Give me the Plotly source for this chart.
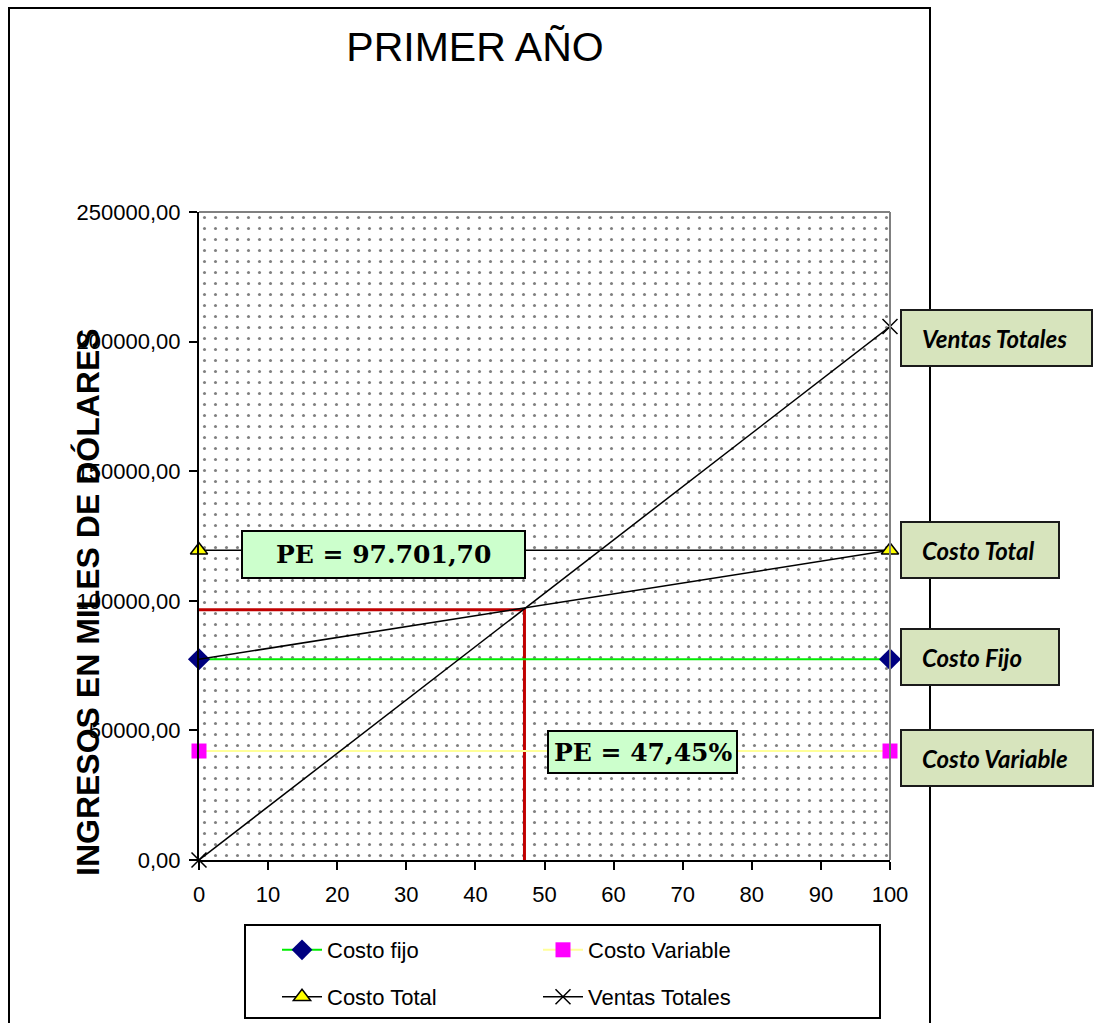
import plotly.graph_objects as go

# ---------------- data ----------------
x_pct = [0, 100]
costo_fijo = [77430, 77430]
costo_variable = [42050, 42050]
costo_total = [119480, 119480]
costo_total_recta = [77430, 119480]
ventas_totales = [0, 205800]
pe_pct = 47.1
pe_valor = 96500
pe_label_valor = "PE = 97.701,70"
pe_label_pct = "PE = 47,45%"
y_tickvals = [0, 50000, 100000, 150000, 200000, 250000]
y_ticktext = ["0,00", "50000,00", "100000,00", "150000,00", "200000,00", "250000,00"]
x_tickvals = [0, 10, 20, 30, 40, 50, 60, 70, 80, 90, 100]
x_range = [0, 100]
y_range = [0, 250000]

W, H = 1099, 1023
L, R, T, B = 199, 890, 212, 860  # plot area in px


def px(xp):
    return (xp - L) / (R - L)


def py(yp):
    return (B - yp) / (B - T)


FONT = "Liberation Sans, Arial, sans-serif"

fig = go.Figure()

# dotted background of plot area
fig.add_trace(go.Scatter(
    x=[x_range[0], x_range[1], x_range[1], x_range[0], x_range[0]],
    y=[y_range[0], y_range[0], y_range[1], y_range[1], y_range[0]],
    fill="toself", mode="none", fillcolor="white",
    fillpattern=dict(shape=".", size=11, solidity=0.06, fgcolor="#000000", bgcolor="white"),
    showlegend=False, hoverinfo="skip"))

# red break-even guides
fig.add_trace(go.Scatter(x=[x_range[0], pe_pct, pe_pct], y=[pe_valor, pe_valor, y_range[0]],
                         mode="lines", line=dict(color="#c00000", width=3),
                         showlegend=False, hoverinfo="skip"))

fig.add_trace(go.Scatter(x=x_pct, y=costo_fijo, name="Costo fijo", mode="lines+markers",
                         line=dict(color="#00ee00", width=2),
                         marker=dict(symbol="diamond", size=17, color="#000080"),
                         legend="legend", cliponaxis=False))
fig.add_trace(go.Scatter(x=x_pct, y=costo_variable, name="Costo Variable", mode="lines+markers",
                         line=dict(color="#ffff99", width=2),
                         marker=dict(symbol="square", size=15, color="#ff00ff"),
                         legend="legend", cliponaxis=False))
fig.add_trace(go.Scatter(x=x_pct, y=costo_total_recta, mode="lines",
                         line=dict(color="black", width=1.5), showlegend=False, cliponaxis=False))
fig.add_trace(go.Scatter(x=x_pct, y=costo_total, name="Costo Total", mode="lines+markers",
                         line=dict(color="black", width=1.5),
                         marker=dict(symbol="triangle-up", size=15, color="#ffff00",
                                     line=dict(color="black", width=1.5)),
                         legend="legend2", cliponaxis=False))
fig.add_trace(go.Scatter(x=x_pct, y=ventas_totales, name="Ventas Totales", mode="lines+markers",
                         line=dict(color="black", width=1.5),
                         marker=dict(symbol="x-thin-open", size=15, color="black",
                                     line=dict(color="black", width=1.5)),
                         legend="legend2", cliponaxis=False))

shapes = []
# outer chart border
shapes.append(dict(type="rect", xref="paper", yref="paper", x0=px(9), x1=px(930), y0=py(1030), y1=py(8),
                   line=dict(color="black", width=2), fillcolor="rgba(0,0,0,0)", layer="above"))
# plot area top/right edges (gray)
shapes.append(dict(type="line", xref="paper", yref="paper", x0=0, x1=1, y0=1, y1=1,
                   line=dict(color="#808080", width=2), layer="above"))
shapes.append(dict(type="line", xref="paper", yref="paper", x0=1, x1=1, y0=0, y1=1,
                   line=dict(color="#808080", width=2), layer="above"))
# legend box
shapes.append(dict(type="rect", xref="paper", yref="paper", x0=px(245), x1=px(880), y0=py(1018), y1=py(925),
                   line=dict(color="black", width=2), fillcolor="white", layer="below"))

annotations = []

# right-side label boxes
boxes = [
    ("Ventas Totales", 901, 1092, 310, 366),
    ("Costo Total", 901, 1059, 522, 578),
    ("Costo Fijo", 901, 1059, 629, 685),
    ("Costo Variable", 901, 1093, 730, 786),
]
for txt, bx0, bx1, by0, by1 in boxes:
    shapes.append(dict(type="rect", xref="paper", yref="paper", x0=px(bx0), x1=px(bx1), y0=py(by1), y1=py(by0),
                       line=dict(color="#1a1a1a", width=2), fillcolor="#d7e4bd", layer="above"))
    annotations.append(dict(text="<b><i>" + txt + "</i></b>", xref="paper", yref="paper",
                            x=px(bx0 + 19), y=py((by0 + by1) / 2), xanchor="left", yanchor="middle",
                            showarrow=False, font=dict(family="Lato, Open Sans, sans-serif", size=24, color="black")))

# PE boxes
pe_boxes = [
    (pe_label_valor, 242, 525, 531, 578),
    (pe_label_pct, 548, 737, 731, 773),
]
for txt, bx0, bx1, by0, by1 in pe_boxes:
    shapes.append(dict(type="rect", xref="paper", yref="paper", x0=px(bx0), x1=px(bx1), y0=py(by1), y1=py(by0),
                       line=dict(color="black", width=2), fillcolor="#ccffcc", layer="above"))
    annotations.append(dict(text="<b>" + txt + "</b>", xref="paper", yref="paper",
                            x=px((bx0 + bx1) / 2), y=py((by0 + by1) / 2), xanchor="center", yanchor="middle",
                            showarrow=False, font=dict(family="DejaVu Serif, serif", size=25, color="black")))

# y-axis title
annotations.append(dict(text="<b>INGRESOS EN MILES DE DÓLARES</b>", xref="paper", yref="paper",
                        x=px(88), y=py(602), xanchor="center", yanchor="middle", textangle=-90,
                        showarrow=False, font=dict(family=FONT, size=32, color="black")))

fig.update_layout(
    width=W, height=H,
    margin=dict(l=L, r=W - R, t=T, b=H - B, autoexpand=False),
    paper_bgcolor="white", plot_bgcolor="white",
    title=dict(text="PRIMER AÑO", xref="container", x=475 / W, xanchor="center", y=1 - 47 / H,
               yanchor="middle", font=dict(family=FONT, size=41, color="black")),
    font=dict(family=FONT, size=22, color="black"),
    xaxis=dict(range=x_range, tickvals=x_tickvals, ticks="outside", ticklen=8, tickwidth=2,
               tickcolor="black", showline=True, linecolor="black", linewidth=2, showgrid=False,
               zeroline=False, tickfont=dict(size=22), ticklabelstandoff=6, automargin=False),
    yaxis=dict(range=y_range, tickvals=y_tickvals, ticktext=y_ticktext, ticks="outside", ticklen=8,
               tickwidth=2, tickcolor="black", showline=True, linecolor="black", linewidth=2,
               showgrid=True, gridcolor="black", gridwidth=1.5, zeroline=False, tickfont=dict(size=22),
               ticklabelstandoff=4, automargin=False),
    legend=dict(orientation="h", x=px(277), y=py(950), xanchor="left", yanchor="middle",
                bgcolor="rgba(0,0,0,0)", borderwidth=0, entrywidth=206, itemwidth=40,
                font=dict(family=FONT, size=22)),
    legend2=dict(orientation="h", x=px(277), y=py(997), xanchor="left", yanchor="middle",
                 bgcolor="rgba(0,0,0,0)", borderwidth=0, entrywidth=206, itemwidth=40,
                 font=dict(family=FONT, size=22)),
    shapes=shapes, annotations=annotations,
)

fig.write_html("out.html", config={"displayModeBar": False},
               post_script="document.body.style.margin='0';document.body.style.overflow='hidden';")
